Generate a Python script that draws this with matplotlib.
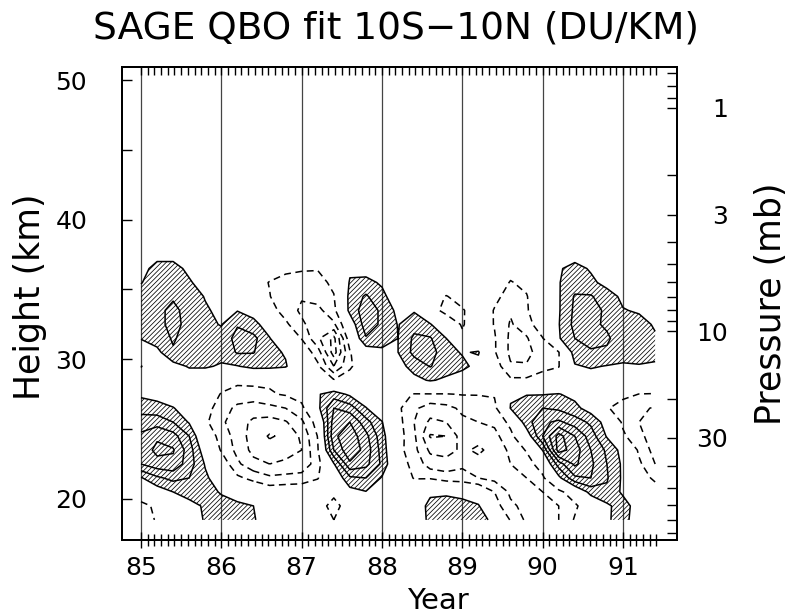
import numpy as np
import matplotlib
matplotlib.use("Agg")
import matplotlib.pyplot as plt
from matplotlib.ticker import FixedLocator, NullFormatter

plt.rcParams["hatch.color"] = "black"
plt.rcParams["hatch.linewidth"] = 0.55
plt.rcParams["font.family"] = "DejaVu Sans"

# grid of the fit: time (year) x height (km)
years = [85.0, 85.2, 85.4, 85.6, 85.8, 86.0, 86.2, 86.4, 86.6, 86.8, 87.0,
         87.2, 87.4, 87.6, 87.8, 88.0, 88.2, 88.4, 88.6, 88.8, 89.0, 89.2,
         89.4, 89.6, 89.8, 90.0, 90.2, 90.4, 90.6, 90.8, 91.0, 91.2, 91.4]
heights = [18.5, 19.5, 20.5, 21.5, 22.5, 23.5, 24.5, 25.5, 26.5, 27.5,
           28.5, 29.5, 30.5, 31.5, 32.5, 33.5, 34.5, 35.5, 36.5, 37.5]

# ozone anomaly, in units of the contour interval (rows = heights, bottom first)
ozone = [
    [-1.5, -0.9, -0.3, 0.4, 1.1, 1.5, 1.5, 1.1, 0.4, 0.0, -0.2, -0.4, -1.0, -0.3, 0.1, 0.2, 0.3, 0.7, 1.1, 1.6, 1.7, 1.3, 0.8, -1.1, -2.2, -2.6, -2.0, -0.9, 0.0, 0.9, 1.3, 0.5, 0.0],
    [-1.3, -0.8, -0.2, 0.5, 1.2, 1.4, 1.3, 1.0, 0.3, 0.0, -0.2, -0.5, -1.4, -0.4, 0.2, 0.1, 0.0, 0.3, 1.3, 1.5, 1.4, 1.1, -0.5, -1.8, -2.3, -2.5, -2.0, -1.2, -0.2, 0.8, 1.5, 0.4, 0.0],
    [-0.3, 0.4, 1.0, 1.6, 1.4, 0.9, 0.3, 0.0, -0.3, -0.2, -0.3, -0.4, -0.7, 0.6, 0.95, 0.3, 0.0, -0.3, 0.8, 0.8, 0.6, 0.2, -1.0, -2.2, -2.3, -2.0, -1.3, -0.3, 1.4, 1.8, 0.8, 0.0, -0.5],
    [0.9, 1.8, 2.3, 2.0, 1.2, 0.3, -0.8, -1.3, -1.8, -1.7, -1.5, -1.05, 0.0, 1.8, 2.0, 0.9, -0.4, -1.05, -1.1, -1.5, -1.6, -2.0, -2.3, -2.5, -2.0, -1.2, 0.7, 2.8, 3.0, 2.1, 0.8, -0.5, -1.2],
    [3.0, 3.6, 3.7, 2.5, 0.9, -0.3, -1.8, -2.7, -3.0, -2.8, -2.8, -1.4, 0.9, 3.8, 3.3, 1.8, -0.5, -1.3, -2.5, -2.6, -2.2, -2.6, -2.5, -2.0, -1.5, -0.4, 2.5, 4.2, 3.2, 2.0, 0.8, -0.8, -2.0],
    [3.3, 4.3, 4.1, 2.5, 0.3, -1.1, -2.3, -3.3, -3.6, -3.4, -3.0, -1.1, 3.0, 4.8, 3.6, 1.6, -0.6, -1.7, -3.2, -3.4, -2.8, -3.2, -2.6, -1.8, -0.9, 1.05, 5.5, 4.5, 3.0, 1.8, 0.6, -1.2, -2.4],
    [3.2, 3.8, 3.4, 2.0, -0.4, -1.3, -2.5, -3.4, -4.1, -3.8, -2.8, -0.95, 3.8, 4.6, 3.3, 1.4, -0.5, -1.8, -4.1, -4.0, -2.5, -2.6, -2.3, -1.3, 0.3, 3.0, 5.4, 4.0, 2.5, 0.9, -0.8, -1.8, -2.4],
    [2.5, 2.6, 2.0, 0.9, -0.8, -1.8, -2.6, -3.2, -3.4, -3.1, -2.2, -0.5, 3.5, 4.0, 2.4, 1.05, -0.6, -2.0, -3.2, -3.0, -2.2, -2.0, -1.8, -0.7, 1.6, 2.8, 3.2, 2.5, 1.8, 0.5, -1.2, -2.0, -2.4],
    [1.6, 1.4, 1.05, 0.5, -0.5, -1.6, -2.2, -2.5, -2.3, -2.0, -1.3, 0.7, 3.0, 2.5, 1.05, 0.2, -0.8, -1.8, -2.5, -2.3, -1.8, -1.6, -1.3, 1.05, 1.6, 2.0, 1.8, 1.3, 0.5, -0.9, -1.5, -1.8, -2.1],
    [0.8, 0.6, 0.4, 0.2, 0.0, -1.1, -1.5, -1.4, -1.1, -0.9, -0.5, 0.9, 1.5, 0.8, 0.3, 0.0, -0.7, -1.05, -1.05, -1.05, -0.95, -0.95, -0.9, 0.9, 0.95, 0.95, 1.05, 0.7, 0.4, 0.0, -0.7, -1.02, -1.05],
    [-0.5, -0.3, 0.0, 0.3, 0.3, -0.3, -0.7, -0.7, -0.85, -0.6, -0.3, -0.2, -0.9, -0.4, 0.0, 0.1, 0.2, 0.7, 1.1, 0.8, 0.3, 0.0, -0.3, -0.8, -0.8, -0.5, -0.3, 0.3, 0.5, 0.3, 0.2, 0.1, 0.0],
    [-1.05, -0.2, 0.6, 1.1, 1.1, 0.9, 0.95, 1.3, 1.3, 1.1, 0.0, -0.8, -3.0, -1.2, 0.0, 0.3, 0.6, 1.4, 2.05, 1.5, 1.3, 0.6, -0.4, -1.9, -1.9, -1.3, -1.05, 0.9, 1.1, 0.95, 0.9, 0.95, 0.95],
    [0.3, 0.7, 1.9, 1.5, 1.3, 1.3, 2.1, 2.05, 1.3, 0.9, -0.2, -1.5, -4.5, -1.1, 0.3, 0.8, 1.0, 2.3, 2.4, 1.4, 0.9, 1.1, -0.9, -2.2, -2.3, -1.5, -1.05, 1.5, 1.9, 1.8, 1.3, 1.3, 1.1],
    [1.05, 1.5, 2.1, 1.6, 1.4, 1.3, 2.4, 2.3, 1.05, 0.0, -1.05, -2.8, -4.3, -0.3, 1.9, 1.4, 1.0, 2.2, 2.1, 1.0, -0.8, -0.2, -0.9, -2.2, -2.1, -1.05, 0.9, 2.0, 2.3, 2.2, 1.3, 1.4, 1.1],
    [1.5, 1.8, 2.2, 1.8, 1.2, 0.95, 1.9, 1.3, 0.5, -0.8, -1.8, -2.6, -2.2, 0.2, 2.6, 1.8, 0.95, 1.6, 1.1, -0.3, -1.1, -0.3, -1.05, -2.1, -1.5, -0.2, 0.95, 2.3, 2.3, 1.8, 1.3, 1.3, 0.9],
    [1.5, 1.8, 2.2, 1.7, 1.1, 0.8, 0.95, 0.6, -0.6, -1.4, -2.2, -2.3, -1.3, 1.3, 2.6, 1.8, 0.7, 0.9, -0.6, -1.3, -1.1, -0.4, -1.05, -1.9, -1.1, -0.2, 0.9, 2.2, 2.4, 1.8, 1.05, 0.9, 0.6],
    [1.4, 1.7, 1.9, 1.4, 0.95, 0.5, 0.4, 0.0, -0.95, -1.8, -1.9, -1.6, -1.05, 1.3, 2.15, 1.2, 0.5, 0.0, -0.5, -1.05, -0.6, 0.0, -0.8, -1.3, -1.05, -0.2, 0.9, 2.1, 2.1, 1.4, 0.8, 0.4, 0.0],
    [0.95, 1.5, 1.6, 1.1, 0.6, 0.2, 0.0, -0.5, -1.05, -1.3, -1.4, -1.3, -0.8, 1.1, 1.2, 0.9, 0.4, 0.0, 0.0, -0.3, 0.0, 0.0, -0.5, -1.05, -0.8, 0.0, 0.95, 1.5, 1.2, 0.7, 0.4, 0.0, 0.0],
    [0.7, 1.3, 1.3, 0.8, 0.4, 0.1, 0.0, 0.0, -0.4, -0.8, -0.9, -0.95, -0.6, 0.8, 0.7, 0.3, 0.0, 0.0, 0.0, 0.0, 0.0, 0.0, 0.0, -0.7, -0.6, 0.0, 0.9, 1.3, 0.9, 0.5, 0.2, 0.0, 0.0],
    [0.4, 0.7, 0.7, 0.4, 0.2, 0.0, 0.0, 0.0, -0.2, -0.4, -0.5, -0.5, -0.3, 0.2, 0.2, 0.0, 0.0, 0.0, 0.0, 0.0, 0.0, 0.0, 0.0, -0.2, -0.2, 0.0, 0.4, 0.6, 0.4, 0.2, 0.0, 0.0, 0.0],
]

pos_levels = [1, 2, 3, 4, 5]
neg_levels = [-5, -4, -3, -2, -1]
year_ticks = [85, 86, 87, 88, 89, 90, 91]
height_ticks = [20, 30, 40, 50]
height_minor = [25, 35, 45]
p_major = [1, 3, 10, 30]
p_minor = [0.7, 0.8, 0.9, 2, 4, 5, 6, 7, 8, 9, 20, 40, 50, 60, 70, 80]


def p2z(p):
    return 16.0 * np.log10(1000.0 / np.asarray(p, dtype=float))


X, Y = np.meshgrid(years, heights)
Z = np.array(ozone)

fig = plt.figure(figsize=(7.93, 6.16), dpi=100)
ax = fig.add_axes([0.1538, 0.1234, 0.6999, 0.7678])

for yr in year_ticks:
    ax.axvline(yr, color="#444444", lw=0.9, zorder=1)

ax.contourf(X, Y, Z, levels=[1, 20], colors="none", hatches=["///////"], zorder=2)
ax.contour(X, Y, Z, levels=pos_levels, colors="k", linewidths=1.1,
           linestyles="solid", zorder=3)
ax.contour(X, Y, Z, levels=neg_levels, colors="k", linewidths=1.1,
           linestyles=[(0, (4.5, 3))], zorder=3)

ax.set_xlim(84.763, 91.672)
ax.set_ylim(17.06, 50.93)

# bottom axis
ax.set_xticks(year_ticks)
ax.set_xticklabels([str(y) for y in year_ticks])
ax.xaxis.set_minor_locator(FixedLocator(85 + np.arange(78) / 12.0))
ax.tick_params(axis="x", which="major", direction="inout", length=11, width=1,
               labelsize=18, pad=6, top=False)
ax.tick_params(axis="x", which="minor", direction="inout", length=8, width=1, top=False)

# left axis
ax.set_yticks(height_ticks)
ax.yaxis.set_minor_locator(FixedLocator(height_minor))
ax.tick_params(axis="y", which="both", direction="in", length=7, width=1,
               labelsize=18, pad=25, right=False)

# top axis ticks
axt = ax.twiny()
axt.set_xlim(ax.get_xlim())
axt.set_xticks(year_ticks)
axt.xaxis.set_minor_locator(FixedLocator(85 + np.arange(78) / 12.0))
axt.tick_params(axis="x", which="both", direction="in", length=6, width=1,
                labelsize=0, labeltop=False)

# right axis: pressure
axr = ax.twinx()
axr.set_ylim(ax.get_ylim())
axr.set_yticks(p2z(p_major))
axr.set_yticklabels([str(p) for p in p_major])
axr.yaxis.set_minor_locator(FixedLocator(p2z(p_minor)))
axr.yaxis.set_minor_formatter(NullFormatter())
axr.tick_params(axis="y", which="both", direction="in", length=7, width=1,
                labelsize=18, pad=37)
for lab in axr.get_yticklabels():
    lab.set_horizontalalignment("right")

for a in (ax, axt, axr):
    for s in a.spines.values():
        s.set_linewidth(1.3)

fig.text(0.4994, 0.9545, "SAGE QBO fit 10S\u221210N (DU/KM)", ha="center",
         va="center", fontsize=27)
fig.text(0.038, 0.519, "Height (km)", rotation=90, ha="center", va="center",
         fontsize=25)
fig.text(0.972, 0.507, "Pressure (mb)", rotation=90, ha="center", va="center",
         fontsize=25)
fig.text(0.552, 0.024, "Year", ha="center", va="center", fontsize=21)

fig.savefig("out.png", dpi=100)
